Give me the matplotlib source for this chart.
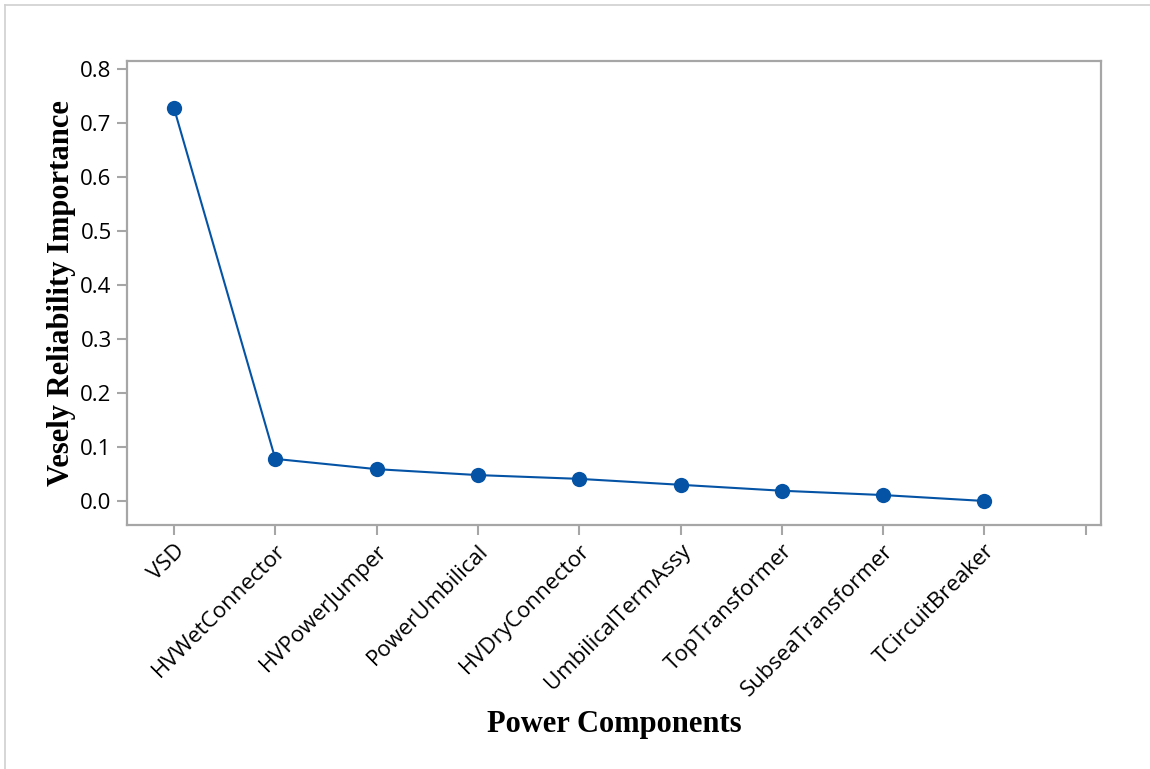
import matplotlib
matplotlib.use("Agg")
import matplotlib.pyplot as plt
from matplotlib.lines import Line2D

categories = ["VSD", "HVWetConnector", "HVPowerJumper", "PowerUmbilical",
              "HVDryConnector", "UmbilicalTermAssy", "TopTransformer",
              "SubseaTransformer", "TCircuitBreaker"]
values = [0.728, 0.078, 0.059, 0.048, 0.041, 0.030, 0.019, 0.011, 0.000]
yticks = [0.0, 0.1, 0.2, 0.3, 0.4, 0.5, 0.6, 0.7, 0.8]

W, H = 1150, 769
fig = plt.figure(figsize=(W / 100, H / 100), dpi=100)
ax = fig.add_axes([127 / W, 1 - 525 / H, (1101 - 127) / W, (525 - 61) / H])

xs = list(range(1, len(categories) + 1))
ax.plot(xs, values, color="#0453a5", lw=1.5, marker="o", ms=11,
        markeredgewidth=0, zorder=3)

ax.set_xlim(0.536, 10.151)
ax.set_ylim(-0.0445, 0.8154)
ax.set_xticks(xs + [10])
ax.set_xticklabels(categories + [""], rotation=45, ha="right",
                   rotation_mode="anchor", fontsize=16, family="Open Sans")
ax.set_yticks(yticks)
ax.set_yticklabels([f"{v:.1f}" for v in yticks], fontsize=16, family="Open Sans")

for s in ax.spines.values():
    s.set_color("#a6a6a6")
    s.set_linewidth(1.6)
ax.tick_params(axis="both", colors="#a6a6a6", length=7, width=1.5,
               labelcolor="black", pad=4)

ax.set_ylabel("Vesely Reliability Importance", family="Liberation Serif",
              fontweight="bold", fontsize=22, labelpad=3)
ax.set_xlabel("Power Components", family="Liberation Serif",
              fontweight="bold", fontsize=22, labelpad=7)

fig.add_artist(Line2D([5 / W, 1], [1 - 5 / H, 1 - 5 / H], color="#d0d0d0",
                      lw=1.2, transform=fig.transFigure))
fig.add_artist(Line2D([5 / W, 5 / W], [0, 1 - 5 / H], color="#d0d0d0",
                      lw=1.2, transform=fig.transFigure))

fig.savefig("out.png", dpi=100, facecolor="white")
